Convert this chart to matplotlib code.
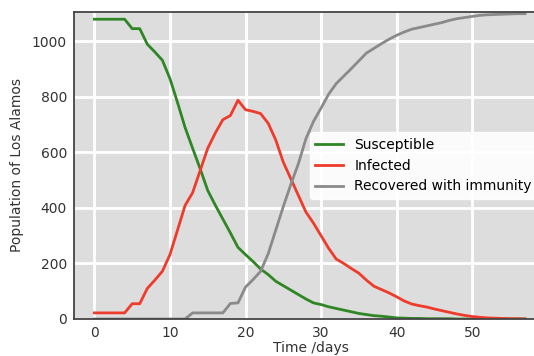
import matplotlib
matplotlib.use("Agg")
import matplotlib.pyplot as plt
import numpy as np

days = list(range(58))
susceptible = [1080, 1080, 1080, 1080, 1080, 1046, 1046, 990, 962, 932,
               866, 780, 690, 615, 541, 463, 410, 360, 310, 258,
               232, 207, 180, 160, 136, 120, 104, 88, 72, 58,
               52, 44, 38, 32, 26, 20, 16, 12, 10, 7,
               4, 3, 2, 2, 1, 1, 1, 1, 0, 0,
               0, 0, 0, 0, 0, 0, 0, 0]
infected = [22, 22, 22, 22, 22, 55, 55, 110, 140, 172,
            232, 320, 409, 455, 535, 615, 670, 718, 733, 788,
            754, 748, 740, 705, 645, 565, 505, 445, 385, 345,
            300, 255, 216, 200, 182, 165, 140, 118, 106, 94,
            80, 65, 54, 48, 43, 36, 30, 24, 18, 13,
            9, 6, 4, 3, 2, 1, 1, 0]
recovered = [0, 0, 0, 0, 0, 0, 0, 0, 0, 0,
             0, 0, 0, 22, 22, 22, 22, 22, 56, 58,
             115, 142, 172, 235, 320, 405, 485, 560, 650, 712,
             760, 810, 848, 875, 902, 930, 958, 975, 992, 1008,
             1022, 1034, 1044, 1050, 1056, 1062, 1068, 1076, 1082, 1086,
             1090, 1094, 1096, 1097, 1098, 1099, 1100, 1100]

fig = plt.figure(figsize=(5.34, 3.56), dpi=100)
ax = fig.add_axes([74/534, (356-319)/356, (547-74)/534, (319-12)/356])
ax.set_facecolor('#dddddd')
ax.set_axisbelow(True)
ax.grid(True, color='white', lw=2, ls='-')

ax.plot(days, susceptible, color='#2e8624', lw=2, label='Susceptible')
ax.plot(days, infected, color='#ee3b2b', lw=2, label='Infected')
ax.plot(days, recovered, color='#8a8a8a', lw=2, label='Recovered with immunity')

ax.set_xlim(-2.7, 59.9)
ax.set_ylim(0, 1106)
ax.set_xticks([0, 10, 20, 30, 40, 50])
ax.set_yticks([0, 200, 400, 600, 800, 1000])
ax.tick_params(length=0, labelsize=10, labelcolor='#333333', pad=5)
for s in ax.spines.values():
    s.set_color('#444444')
    s.set_linewidth(1.3)

ax.set_xlabel('Time /days', fontsize=10, color='#333333', labelpad=1)
ax.set_ylabel('Population of Los Alamos', fontsize=10, color='#333333', labelpad=6)

leg = ax.legend(loc='center right', fontsize=10, framealpha=0.9,
                borderaxespad=0.7)
leg.get_frame().set_edgecolor('white')

fig.savefig('out.png', dpi=100)
